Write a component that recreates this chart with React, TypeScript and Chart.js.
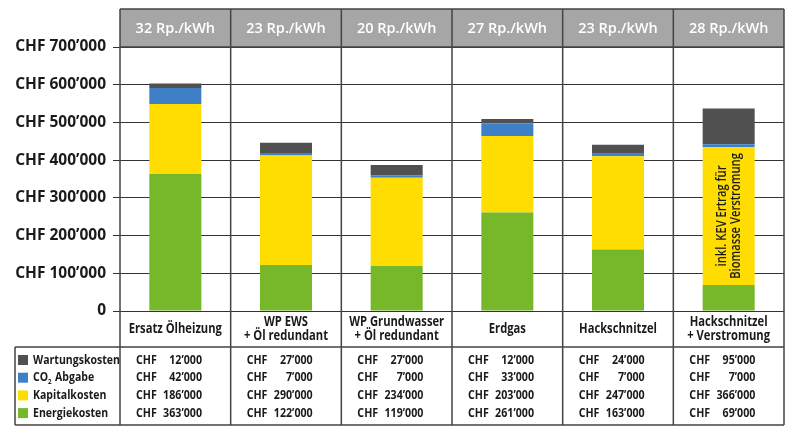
import React, { useEffect, useRef } from "react";
import { Chart, registerables } from "chart.js";
Chart.register(...registerables);

const categories: string[][] = [
  ["Ersatz Ölheizung"],
  ["WP EWS", "+ Öl redundant"],
  ["WP Grundwasser", "+ Öl redundant"],
  ["Erdgas"],
  ["Hackschnitzel"],
  ["Hackschnitzel", "+ Verstromung"],
];
const tariffs = ["32 Rp./kWh", "23 Rp./kWh", "20 Rp./kWh", "27 Rp./kWh", "23 Rp./kWh", "28 Rp./kWh"];
const energiekosten = [363000, 122000, 119000, 261000, 163000, 69000];
const kapitalkosten = [186000, 290000, 234000, 203000, 247000, 366000];
const co2Abgabe = [42000, 7000, 7000, 33000, 7000, 7000];
const wartungskosten = [12000, 27000, 27000, 12000, 24000, 95000];
const barNote = ["inkl. KEV Ertrag für", "Biomasse Verstromung"];
const noteIndex = 5;

const FONT = "'Open Sans', 'DejaVu Sans', sans-serif";
const TEXT = "#1a1a1a";
const LINE = "#444444";

function fmt(v: number): string {
  return Math.round(v).toString().replace(/\B(?=(\d{3})+(?!\d))/g, "\u2019");
}

function txt(ctx: CanvasRenderingContext2D, s: string, x: number, y: number, align: CanvasTextAlign, sx: number) {
  ctx.save();
  ctx.translate(x, y);
  ctx.scale(sx, 1);
  ctx.textAlign = align;
  ctx.fillText(s, 0, 0);
  ctx.restore();
}

export default function App() {
  const ref = useRef<HTMLCanvasElement>(null);
  useEffect(() => {
    const canvas = ref.current!;
    const framePlugin = {
      id: "frame",
      afterDraw(chart: any) {
        const ctx = chart.ctx as CanvasRenderingContext2D;
        const { left, right, top, bottom } = chart.chartArea;
        const n = categories.length;
        const colW = (right - left) / n;
        const headerTop = 9;
        const tableTop = bottom + 36;
        const tableBottom = tableTop + 78;
        const tableLeft = 15;
        const xs = chart.scales.x;
        ctx.save();
        // header
        ctx.fillStyle = "#a6a6a6";
        ctx.fillRect(left, headerTop, right - left, top - headerTop);
        ctx.fillStyle = "#ffffff";
        ctx.font = `600 14.5px ${FONT}`;
        ctx.textBaseline = "middle";
        tariffs.forEach((t, i) => {
          txt(ctx, t, xs.getPixelForValue(i), (headerTop + top) / 2 + 1, "center", 1);
        });
        // lines
        ctx.strokeStyle = LINE;
        ctx.lineWidth = 1.5;
        ctx.beginPath();
        ctx.moveTo(left, headerTop);
        ctx.lineTo(right, headerTop);
        ctx.moveTo(left, top);
        ctx.lineTo(right, top);
        ctx.moveTo(tableLeft, tableTop);
        ctx.lineTo(right, tableTop);
        ctx.moveTo(tableLeft, tableBottom);
        ctx.lineTo(right, tableBottom);
        ctx.moveTo(tableLeft, tableTop);
        ctx.lineTo(tableLeft, tableBottom);
        for (let i = 0; i <= n; i++) {
          const x = left + colW * i;
          ctx.moveTo(x, headerTop);
          ctx.lineTo(x, tableBottom);
        }
        ctx.stroke();
        // category labels
        ctx.fillStyle = TEXT;
        ctx.font = `bold 14px ${FONT}`;
        ctx.textBaseline = "middle";
        const catMid = (bottom + tableTop) / 2;
        categories.forEach((lines, i) => {
          const cx = xs.getPixelForValue(i);
          lines.forEach((l, k) => {
            const y = catMid + (k - (lines.length - 1) / 2) * 14;
            txt(ctx, l, cx, y, "center", 0.8);
          });
        });
        // table
        const datasets = chart.data.datasets;
        const rows = [3, 2, 1, 0];
        rows.forEach((di, r) => {
          const ds = datasets[di];
          const cy = tableTop + 13 + r * 17.7;
          ctx.fillStyle = ds.backgroundColor;
          ctx.fillRect(18, cy - 5, 10, 10);
          ctx.fillStyle = TEXT;
          ctx.font = `bold 13px ${FONT}`;
          ctx.textBaseline = "middle";
          if (ds.label === "CO2 Abgabe") {
            txt(ctx, "CO", 33, cy, "left", 0.81);
            const w = ctx.measureText("CO").width * 0.81;
            ctx.font = `bold 7.5px ${FONT}`;
            txt(ctx, "2", 33 + w, cy + 4, "left", 0.81);
            ctx.font = `bold 13px ${FONT}`;
            txt(ctx, "Abgabe", 33 + w + 7, cy, "left", 0.81);
          } else {
            txt(ctx, ds.label, 33, cy, "left", 0.81);
          }
          ds.data.forEach((v: number, i: number) => {
            const cl = left + colW * i;
            txt(ctx, "CHF", cl + 16, cy, "left", 0.82);
            txt(ctx, fmt(v), cl + 82, cy, "right", 0.82);
          });
        });
        // bar note
        const meta = chart.getDatasetMeta(1);
        const bar = meta.data[noteIndex];
        if (bar) {
          const cy = (bar.y + bar.base) / 2;
          ctx.translate(bar.x, cy);
          ctx.rotate(-Math.PI / 2);
          ctx.fillStyle = TEXT;
          ctx.font = `600 14px ${FONT}`;
          ctx.textBaseline = "middle";
          txt(ctx, barNote[0], 0, -7, "center", 0.8);
          txt(ctx, barNote[1], 0, 7, "center", 0.8);
        }
        ctx.restore();
      },
    };
    const chart = new Chart(canvas, {
      type: "bar",
      data: {
        labels: categories,
        datasets: [
          { label: "Energiekosten", data: energiekosten, backgroundColor: "#77b82a" },
          { label: "Kapitalkosten", data: kapitalkosten, backgroundColor: "#ffdd00" },
          { label: "CO2 Abgabe", data: co2Abgabe, backgroundColor: "#3d80c6" },
          { label: "Wartungskosten", data: wartungskosten, backgroundColor: "#505050" },
        ],
      },
      options: {
        responsive: false,
        animation: false,
        devicePixelRatio: 1,
        layout: { padding: { top: 47, right: 16, left: 0, bottom: 129 } },
        datasets: { bar: { categoryPercentage: 1, barPercentage: 0.47 } },
        plugins: { legend: { display: false }, tooltip: { enabled: false } },
        scales: {
          x: {
            stacked: true,
            display: false,
          },
          y: {
            stacked: true,
            min: 0,
            max: 700000,
            border: { display: false },
            grid: { color: "#333333", lineWidth: 1, tickLength: 7 },
            ticks: {
              stepSize: 100000,
              padding: 7,
              color: TEXT,
              font: { family: FONT, size: 15.5, weight: "bold" },
              callback: (v: any) => (Number(v) === 0 ? "0" : "CHF " + fmt(Number(v))),
            },
            afterFit(scale: any) {
              scale.width = 120;
            },
          },
        },
      },
      plugins: [framePlugin],
    } as any);
    return () => chart.destroy();
  }, []);
  return (
    <div style={{ position: "fixed", left: 0, top: 0, width: 800, height: 440, background: "#fff" }}>
      <canvas ref={ref} width={800} height={440} style={{ display: "block" }} />
    </div>
  );
}
